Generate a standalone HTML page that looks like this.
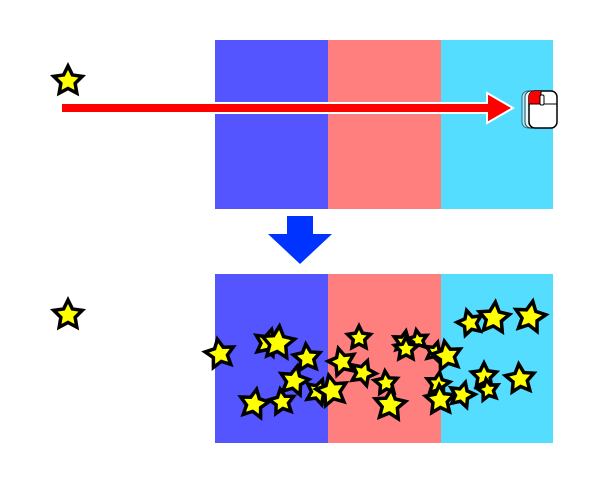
<!DOCTYPE html>
<html><head><meta charset="utf-8"><style>html,body{margin:0;padding:0;background:#fff;}svg{display:block}</style></head>
<body>
<svg width="600" height="480" viewBox="0 0 600 480" xmlns="http://www.w3.org/2000/svg">
<defs>
<path id="s" d="M0,-1 L0.294,-0.405 L0.951,-0.309 L0.476,0.155 L0.588,0.809 L0,0.5 L-0.588,0.809 L-0.476,0.155 L-0.951,-0.309 L-0.294,-0.405 Z" fill="#ffff00" stroke="#000" stroke-width="3.5" stroke-linejoin="miter" vector-effect="non-scaling-stroke"/>
</defs>
<rect x="215" y="40" width="113" height="169" fill="#5555ff"/>
<rect x="328" y="40" width="113" height="169" fill="#ff7f7f"/>
<rect x="441" y="40" width="112" height="169" fill="#55ddff"/>
<rect x="215" y="274" width="113" height="169" fill="#5555ff"/>
<rect x="328" y="274" width="113" height="169" fill="#ff7f7f"/>
<rect x="441" y="274" width="112" height="169" fill="#55ddff"/>
<polygon points="287,216 313,216 313,234 332,234 300,264 268,234 287,234" fill="#0033ff"/>
<polygon points="61,103 487,103 487,93 513,108 487,123 487,113 61,113" fill="#ff0000" stroke="#fff" stroke-width="2"/>
<g stroke="#000" stroke-width="1">
<rect x="522" y="91" width="28" height="37" rx="6" fill="#fff" opacity="0.5"/>
<rect x="525" y="91" width="28" height="37" rx="6" fill="#fff" opacity="0.7"/>
<rect x="529" y="91" width="28" height="37" rx="6" fill="#fff" stroke-width="1.5"/>
<path d="M541,91 L535,91 Q529,91 529,97 L529,104 L541,104 Z" fill="#ff0000" stroke="none"/>
<line x1="529" y1="104" x2="557" y2="104"/>
<line x1="541" y1="91" x2="541" y2="104"/>
<rect x="540" y="95" width="4" height="10" rx="1.5" fill="#fff"/>
</g>
<use href="#s" transform="translate(68,81) scale(15)"/>
<use href="#s" transform="translate(68,315) scale(15)"/>
<g>
<use href="#s" transform="translate(220,354) rotate(-10) scale(15)"/>
<use href="#s" transform="translate(268,343) rotate(15) scale(14)"/>
<use href="#s" transform="translate(278,343) rotate(5) scale(17)"/>
<use href="#s" transform="translate(307,358) rotate(-5) scale(14)"/>
<use href="#s" transform="translate(254,404) rotate(10) scale(15)"/>
<use href="#s" transform="translate(282,402) rotate(-8) scale(13)"/>
<use href="#s" transform="translate(318,392) rotate(20) scale(13)"/>
<use href="#s" transform="translate(294,381) rotate(12) scale(15)"/>
<use href="#s" transform="translate(332,391) rotate(-12) scale(16)"/>
<use href="#s" transform="translate(342,362) rotate(-15) scale(14)"/>
<use href="#s" transform="translate(359,338) rotate(0) scale(12)"/>
<use href="#s" transform="translate(363,373) rotate(20) scale(13)"/>
<use href="#s" transform="translate(386,383) rotate(-5) scale(12)"/>
<use href="#s" transform="translate(390,405) rotate(5) scale(16)"/>
<use href="#s" transform="translate(404,342) rotate(10) scale(11)"/>
<use href="#s" transform="translate(418,340) rotate(-10) scale(10)"/>
<use href="#s" transform="translate(406,349) rotate(0) scale(12)"/>
<use href="#s" transform="translate(435,352) rotate(15) scale(10)"/>
<use href="#s" transform="translate(447,356) rotate(-10) scale(15)"/>
<use href="#s" transform="translate(438,384) rotate(8) scale(12)"/>
<use href="#s" transform="translate(440,400) rotate(-3) scale(15)"/>
<use href="#s" transform="translate(462,395) rotate(15) scale(13)"/>
<use href="#s" transform="translate(484,376) rotate(0) scale(13)"/>
<use href="#s" transform="translate(488,390) rotate(-10) scale(11)"/>
<use href="#s" transform="translate(470,323) rotate(-15) scale(13)"/>
<use href="#s" transform="translate(494,318) rotate(5) scale(16)"/>
<use href="#s" transform="translate(530,317) rotate(10) scale(16)"/>
<use href="#s" transform="translate(520,379) rotate(-5) scale(15)"/>
</g>
</svg>
</body></html>
